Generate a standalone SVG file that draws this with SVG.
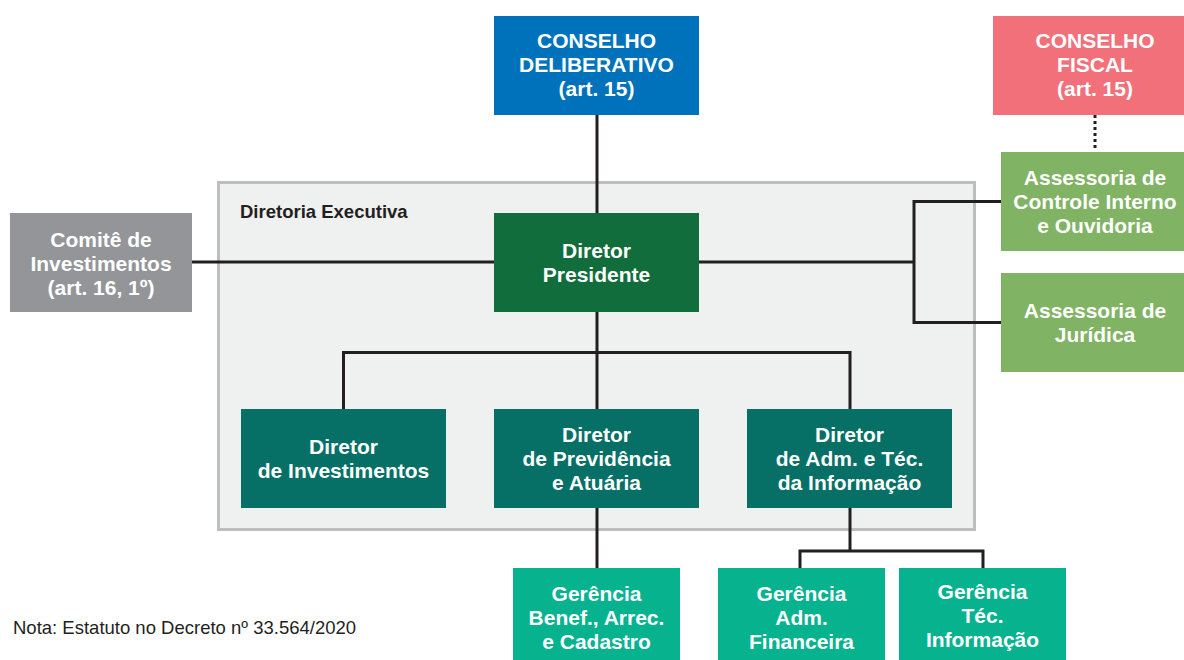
<svg xmlns="http://www.w3.org/2000/svg" width="1184" height="660" viewBox="0 0 1184 660">
<style>
.t{font-family:"Liberation Sans",Arial,sans-serif;font-weight:bold;font-size:21px;fill:#ffffff;text-anchor:middle}
.ln{fill:none;stroke:#231f20;stroke-width:3}
.blue{fill:#0072bc}.red{fill:#f2707a}.pres{fill:#116d3b}.dir{fill:#066f66}.ger{fill:#07b28f}.ass{fill:#80b363}.gray{fill:#939598}
</style>
<rect width="1184" height="660" fill="#ffffff"/>
<g id="diretoria-executiva">
<rect x="218.5" y="182.5" width="756" height="347" fill="#eff0f0" stroke="#bcbec0" stroke-width="3"/>
<text x="240" y="218" style="font-family:'Liberation Sans',Arial,sans-serif;font-weight:bold;font-size:18.5px;fill:#231f20">Diretoria Executiva</text>
</g>
<g id="connectors">
<polyline class="ln" points="597,115 597,568"/>
<polyline class="ln" points="192,262 494,262"/>
<polyline class="ln" points="699,262 914,262"/>
<polyline class="ln" points="1001,201.5 914,201.5 914,322.5 1001,322.5"/>
<polyline class="ln" points="343.5,409 343.5,352.5 850,352.5 850,409"/>
<polyline class="ln" points="850,508 850,551"/>
<polyline class="ln" points="800,568 800,551 983,551 983,568"/>
<line x1="1095" y1="115" x2="1095" y2="150" stroke="#231f20" stroke-width="3" stroke-dasharray="3 3"/>
</g>
<g id="conselho-deliberativo">
<rect class="blue" x="494" y="16" width="205" height="99"/>
<text class="t" x="596.5" y="48">CONSELHO</text>
<text class="t" x="596.5" y="72">DELIBERATIVO</text>
<text class="t" x="596.5" y="96">(art. 15)</text>
</g>
<g id="conselho-fiscal">
<rect class="red" x="993" y="16" width="205" height="99"/>
<text class="t" x="1095" y="48">CONSELHO</text>
<text class="t" x="1095" y="72">FISCAL</text>
<text class="t" x="1095" y="96">(art. 15)</text>
</g>
<g id="assessoria-controle">
<rect class="ass" x="1001" y="152" width="188" height="99"/>
<text class="t" x="1095" y="185">Assessoria de</text>
<text class="t" x="1095" y="209">Controle Interno</text>
<text class="t" x="1095" y="233">e Ouvidoria</text>
</g>
<g id="assessoria-juridica">
<rect class="ass" x="1001" y="273" width="188" height="99"/>
<text class="t" x="1095" y="318">Assessoria de</text>
<text class="t" x="1095" y="342">Jurídica</text>
</g>
<g id="comite">
<rect class="gray" x="10" y="213" width="182" height="99"/>
<text class="t" x="101" y="247">Comitê de</text>
<text class="t" x="101" y="271">Investimentos</text>
<text class="t" x="101" y="295">(art. 16, 1º)</text>
</g>
<g id="diretor-presidente">
<rect class="pres" x="494" y="213" width="205" height="99"/>
<text class="t" x="596.5" y="258">Diretor</text>
<text class="t" x="596.5" y="282">Presidente</text>
</g>
<g id="diretor-investimentos">
<rect class="dir" x="241" y="409" width="205" height="99"/>
<text class="t" x="343.5" y="454">Diretor</text>
<text class="t" x="343.5" y="478">de Investimentos</text>
</g>
<g id="diretor-previdencia">
<rect class="dir" x="494" y="409" width="205" height="99"/>
<text class="t" x="596.5" y="442">Diretor</text>
<text class="t" x="596.5" y="466">de Previdência</text>
<text class="t" x="596.5" y="490">e Atuária</text>
</g>
<g id="diretor-adm">
<rect class="dir" x="747" y="409" width="205" height="99"/>
<text class="t" x="849.5" y="442">Diretor</text>
<text class="t" x="849.5" y="466">de Adm. e Téc.</text>
<text class="t" x="849.5" y="490">da Informação</text>
</g>
<g id="gerencia-benef">
<rect class="ger" x="513" y="568" width="167" height="99"/>
<text class="t" x="596.5" y="601">Gerência</text>
<text class="t" x="596.5" y="625">Benef., Arrec.</text>
<text class="t" x="596.5" y="649">e Cadastro</text>
</g>
<g id="gerencia-adm">
<rect class="ger" x="718" y="568" width="167" height="99"/>
<text class="t" x="801.5" y="601">Gerência</text>
<text class="t" x="801.5" y="625">Adm.</text>
<text class="t" x="801.5" y="649">Financeira</text>
</g>
<g id="gerencia-tec">
<rect class="ger" x="899" y="568" width="167" height="99"/>
<text class="t" x="982.5" y="599">Gerência</text>
<text class="t" x="982.5" y="623">Téc.</text>
<text class="t" x="982.5" y="647">Informação</text>
</g>
<text x="13" y="634" style="font-family:'Liberation Sans',Arial,sans-serif;font-size:18.5px;fill:#231f20">Nota: Estatuto no Decreto nº 33.564/2020</text>
</svg>
